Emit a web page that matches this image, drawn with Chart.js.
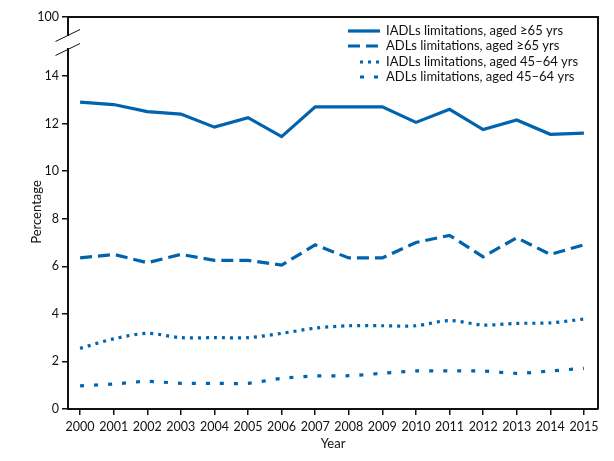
<!DOCTYPE html>
<html>
<head>
<meta charset="utf-8">
<script src="https://cdn.jsdelivr.net/npm/chart.js@4/dist/chart.umd.min.js"></script>
<style>
  html, body { margin: 0; padding: 0; background: #fff; }
  #wrap { width: 614px; height: 461px; position: relative; }
</style>
</head>
<body>
<div id="wrap"><canvas id="chart" width="614" height="461"></canvas></div>
<script>
// ── DATA ──────────────────────────────────────
const years = [2000, 2001, 2002, 2003, 2004, 2005, 2006, 2007, 2008, 2009, 2010, 2011, 2012, 2013, 2014, 2015];
const iadlOld   = [12.9, 12.8, 12.5, 12.4, 11.85, 12.25, 11.45, 12.7, 12.7, 12.7, 12.05, 12.6, 11.75, 12.15, 11.55, 11.6];
const adlOld    = [6.35, 6.5, 6.15, 6.5, 6.25, 6.25, 6.05, 6.9, 6.35, 6.35, 7.0, 7.3, 6.4, 7.2, 6.5, 6.9];
const iadlMid   = [2.55, 2.95, 3.18, 3.0, 3.0, 3.0, 3.18, 3.4, 3.5, 3.5, 3.5, 3.72, 3.53, 3.6, 3.62, 3.78];
const adlMid    = [0.97, 1.05, 1.16, 1.08, 1.08, 1.08, 1.29, 1.39, 1.4, 1.5, 1.6, 1.6, 1.6, 1.5, 1.6, 1.71];
const seriesNames = [
  "IADLs limitations, aged \u226565 yrs",
  "ADLs limitations, aged \u226565 yrs",
  "IADLs limitations, aged 45\u201364 yrs",
  "ADLs limitations, aged 45\u201364 yrs"
];
const yTicks = [0, 2, 4, 6, 8, 10, 12, 14];
const yTopLabel = "100";
const xTitle = "Year";
const yTitle = "Percentage";

// ── STYLE ─────────────────────────────────────
const BLUE = "#0063ad";
const FONT = "Lato";
const Y_TOP = 16.48;   // axis position drawn as the "100" tick above the break
const dashes = [[], [12, 6], [3, 5], [4, 10]];
const tensions = [0, 0, 0.3, 0.3];

function pts(values) {
  return values.map((v, i) => ({ x: years[i], y: v }));
}

const datasets = [iadlOld, adlOld, iadlMid, adlMid].map((vals, i) => ({
  label: seriesNames[i],
  data: pts(vals),
  borderColor: BLUE,
  borderWidth: 3.2,
  borderDash: dashes[i],
  borderCapStyle: "butt",
  tension: tensions[i],
  pointRadius: 0,
  fill: false
}));

// ── FRAME, AXIS BREAK, TITLES, LEGEND ─────────
const decorPlugin = {
  id: "decor",
  afterDraw(chart) {
    const ctx = chart.ctx;
    const a = chart.chartArea;
    ctx.save();

    // top + right border
    ctx.strokeStyle = "#111";
    ctx.lineWidth = 2;
    ctx.beginPath();
    ctx.moveTo(a.left, a.top);
    ctx.lineTo(a.right, a.top);
    ctx.lineTo(a.right, a.bottom);
    ctx.stroke();

    // break in y axis
    ctx.fillStyle = "#fff";
    ctx.fillRect(a.left - 2, 36, 4, 12);
    ctx.strokeStyle = "#111";
    ctx.lineWidth = 1;
    ctx.beginPath();
    ctx.moveTo(55.5, 41.5); ctx.lineTo(80, 29.5);
    ctx.moveTo(55.5, 55.5); ctx.lineTo(80, 43.5);
    ctx.stroke();

    // axis titles
    ctx.fillStyle = "#111";
    ctx.font = "13px " + FONT;
    ctx.textAlign = "center";
    ctx.textBaseline = "middle";
    ctx.fillText(xTitle, 333, 444);
    ctx.save();
    ctx.translate(37, 212);
    ctx.rotate(-Math.PI / 2);
    ctx.fillText(yTitle, 0, 0);
    ctx.restore();

    // legend
    const rows = [31, 46, 62, 77];
    const sampleStart = [348, 348, 360, 360];
    ctx.font = "13px " + FONT;
    ctx.textBaseline = "middle";
    ctx.textAlign = "left";
    rows.forEach((y, i) => {
      ctx.strokeStyle = BLUE;
      ctx.lineWidth = 3.2;
      ctx.setLineDash(dashes[i]);
      ctx.beginPath();
      ctx.moveTo(sampleStart[i], y);
      ctx.lineTo(380, y);
      ctx.stroke();
      ctx.setLineDash([]);
      ctx.fillStyle = "#111";
      ctx.fillText(seriesNames[i], 386, y);
    });

    ctx.restore();
  }
};

new Chart(document.getElementById("chart"), {
  type: "line",
  data: { datasets },
  plugins: [decorPlugin],
  options: {
    responsive: false,
    animation: false,
    layout: { padding: { left: 0, top: 17, right: 16, bottom: 0 } },
    plugins: {
      legend: { display: false },
      tooltip: { enabled: false }
    },
    scales: {
      x: {
        type: "linear",
        min: 1999.64,
        max: 2015.42,
        afterBuildTicks(scale) {
          scale.ticks = years.map(v => ({ value: v }));
        },
        afterFit(scale) {
          scale.height = 52;
          scale.paddingLeft = 0;
          scale.paddingRight = 0;
        },
        grid: { display: true, drawOnChartArea: false, drawTicks: true, tickLength: 6, color: "#111", lineWidth: 1.5 },
        border: { display: true, color: "#111", width: 2 },
        ticks: {
          color: "#111",
          font: { family: FONT, size: 12.5 },
          padding: 4,
          maxRotation: 0,
          autoSkip: false,
          callback: v => String(v)
        }
      },
      y: {
        type: "linear",
        min: 0,
        max: Y_TOP,
        afterBuildTicks(scale) {
          scale.ticks = yTicks.concat([Y_TOP]).map(v => ({ value: v }));
        },
        afterFit(scale) {
          scale.width = 68;
          scale.paddingTop = 0;
          scale.paddingBottom = 0;
        },
        grid: { display: true, drawOnChartArea: false, drawTicks: true, tickLength: 6, color: "#111", lineWidth: 1.5 },
        border: { display: true, color: "#111", width: 2 },
        ticks: {
          color: "#111",
          font: { family: FONT, size: 12.5 },
          padding: 3,
          autoSkip: false,
          callback: v => (v === Y_TOP ? yTopLabel : String(v))
        }
      }
    }
  }
});
</script>
</body>
</html>
